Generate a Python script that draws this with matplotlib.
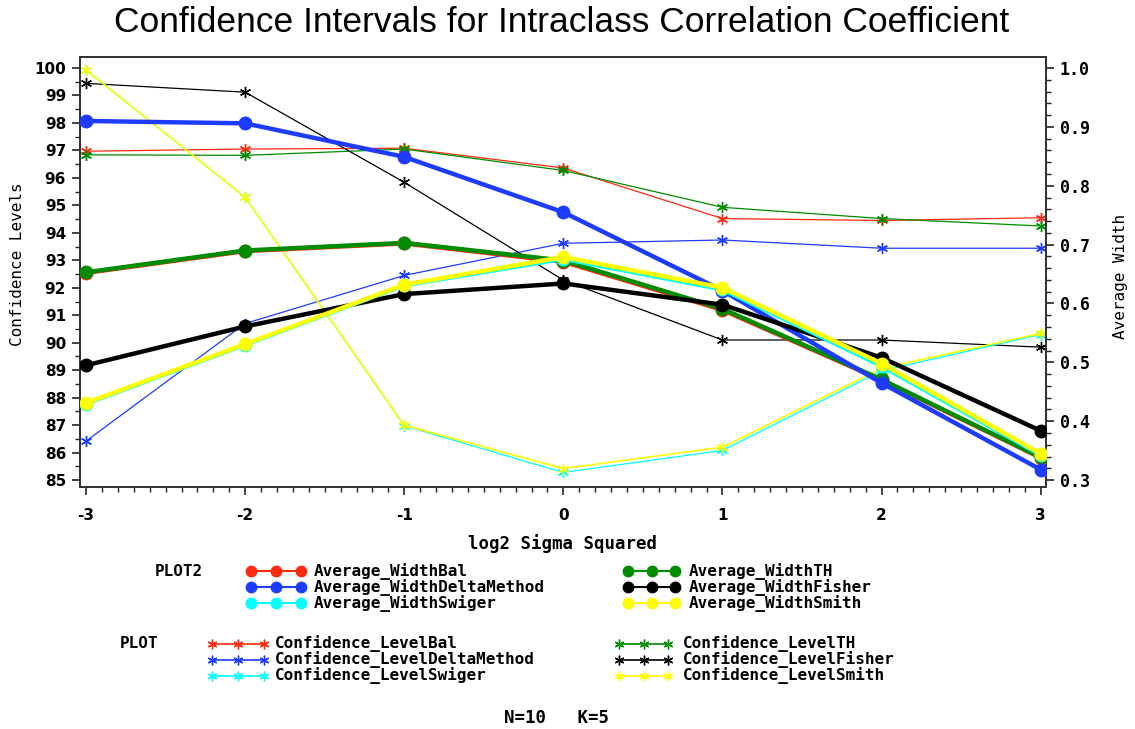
import matplotlib
matplotlib.use("Agg")
import matplotlib.pyplot as plt
from matplotlib.lines import Line2D
from matplotlib.ticker import MultipleLocator, FormatStrFormatter

plt.rcParams['axes.unicode_minus'] = False

# log2 of sigma squared
log2_sigma2 = [-3, -2, -1, 0, 1, 2, 3]

# Confidence levels (%), left axis
conf_bal = [96.97, 97.05, 97.08, 96.36, 94.52, 94.45, 94.55]
conf_th = [96.84, 96.82, 97.05, 96.27, 94.93, 94.52, 94.25]
conf_delta = [86.42, 90.70, 92.45, 93.62, 93.74, 93.44, 93.44]
conf_fisher = [99.44, 99.12, 95.84, 92.28, 90.10, 90.10, 89.84]
conf_swiger = [99.92, 95.29, 86.98, 85.28, 86.08, 88.98, 90.30]
conf_smith = [99.93, 95.30, 87.00, 85.42, 86.20, 89.07, 90.34]

# Average interval width, right axis
width_bal = [0.652, 0.689, 0.702, 0.671, 0.589, 0.470, 0.338]
width_th = [0.653, 0.690, 0.703, 0.673, 0.591, 0.471, 0.339]
width_delta = [0.910, 0.906, 0.849, 0.755, 0.622, 0.465, 0.318]
width_fisher = [0.495, 0.561, 0.616, 0.634, 0.598, 0.508, 0.384]
width_swiger = [0.430, 0.530, 0.631, 0.676, 0.624, 0.494, 0.343]
width_smith = [0.431, 0.531, 0.632, 0.679, 0.627, 0.498, 0.345]

methods = ["Bal", "TH", "DeltaMethod", "Fisher", "Swiger", "Smith"]
colors = {"Bal": "#ff2a10", "TH": "#008c00", "DeltaMethod": "#1e3cff",
          "Fisher": "#000000", "Swiger": "#00ffff", "Smith": "#ffff00"}
conf = {"Bal": conf_bal, "TH": conf_th, "DeltaMethod": conf_delta,
        "Fisher": conf_fisher, "Swiger": conf_swiger, "Smith": conf_smith}
width = {"Bal": width_bal, "TH": width_th, "DeltaMethod": width_delta,
         "Fisher": width_fisher, "Swiger": width_swiger, "Smith": width_smith}

W, H = 1135, 729
fig = plt.figure(figsize=(W / 100, H / 100), dpi=100)
fig.patch.set_facecolor("white")

L, T, R, B = 80, 57, 1046, 487
ax = fig.add_axes([L / W, 1 - B / H, (R - L) / W, (B - T) / H])
ax2 = ax.twinx()

asterisk = (6, 2, 0)
for m in methods:
    ax.plot(log2_sigma2, conf[m], color=colors[m],
            lw=1.2 if m == "Smith" else 0.9, marker=asterisk,
            ms=8, mew=1.0, zorder=2)
for m in methods:
    ax2.plot(log2_sigma2, width[m], color=colors[m], lw=3.2, marker="o",
             ms=9, zorder=3)

ylo, yhi = 84.75, 100.4
ax.set_ylim(ylo, yhi)
ax2.set_ylim(0.3 + (ylo - 85) * 0.7 / 15, 0.3 + (yhi - 85) * 0.7 / 15)
ax.set_xlim(-3.038, 3.034)

ax.xaxis.set_major_locator(MultipleLocator(1))
ax.xaxis.set_minor_locator(MultipleLocator(0.1))
ax.yaxis.set_major_locator(MultipleLocator(1))
ax.yaxis.set_minor_locator(MultipleLocator(0.5))
ax2.yaxis.set_major_locator(MultipleLocator(0.1))
ax2.yaxis.set_minor_locator(MultipleLocator(0.02))
ax2.yaxis.set_major_formatter(FormatStrFormatter("%.1f"))

for a in (ax, ax2):
    a.tick_params(which="major", direction="out", length=6, width=1.2, color="#222222")
    a.tick_params(which="minor", direction="out", length=3.5, width=1.0, color="#222222")
    for s in a.spines.values():
        s.set_linewidth(1.3)
        s.set_color("#333333")

ax.tick_params(axis="x", pad=9)
ax.tick_params(axis="y", pad=4)
ax2.tick_params(axis="y", pad=4)
for lab in ax.get_xticklabels() + ax.get_yticklabels():
    lab.set_fontfamily("DejaVu Sans")
    lab.set_fontweight("bold")
    lab.set_fontsize(11)
for lab in ax2.get_yticklabels():
    lab.set_fontfamily("DejaVu Sans Mono")
    lab.set_fontweight("bold")
    lab.set_fontsize(12)


def fx(x):
    return x / W


def fy(y):
    return 1 - y / H


fig.text(fx(562), fy(23), "Confidence Intervals for Intraclass Correlation Coefficient",
         ha="center", va="center", fontsize=25.5, family="Liberation Sans")
fig.text(fx(18), fy(264), "Confidence Levels", rotation=90, ha="center", va="center",
         fontsize=11.5, family="DejaVu Sans Mono")
fig.text(fx(1121), fy(276), "Average Width", rotation=90, ha="center", va="center",
         fontsize=11.5, family="DejaVu Sans Mono")
fig.text(fx(562), fy(544), "log2 Sigma Squared", ha="center", va="center",
         fontsize=12.5, family="DejaVu Sans Mono", weight="bold")
fig.text(fx(557), fy(718), "N=10   K=5", ha="center", va="center",
         fontsize=12.5, family="DejaVu Sans Mono", weight="bold")

leg_font = dict(fontsize=11.5, family="DejaVu Sans Mono", weight="bold", va="center")


def legend_entry(x0, x1, y, tx, color, marker, ms, lw, label):
    xs = [fx(x0), fx((x0 + x1) / 2), fx(x1)]
    ys = [fy(y)] * 3
    fig.add_artist(Line2D(xs, ys, transform=fig.transFigure, color=color, lw=lw,
                          marker=marker, ms=ms, mew=1.0))
    fig.text(fx(tx), fy(y), label, **leg_font)


fig.text(fx(155), fy(571), "PLOT2", **leg_font)
rows2 = [571, 587, 603]
for i, m in enumerate(["Bal", "DeltaMethod", "Swiger"]):
    legend_entry(251, 301, rows2[i], 314, colors[m], "o", 7.5, 1.5, "Average_Width" + m)
for i, m in enumerate(["TH", "Fisher", "Smith"]):
    legend_entry(628, 675, rows2[i], 689, colors[m], "o", 7.5, 1.5, "Average_Width" + m)

fig.text(fx(120), fy(644), "PLOT", **leg_font)
rows1 = [644, 660, 676]
for i, m in enumerate(["Bal", "DeltaMethod", "Swiger"]):
    legend_entry(212, 264, rows1[i], 275, colors[m], asterisk, 7, 1.2, "Confidence_Level" + m)
for i, m in enumerate(["TH", "Fisher", "Smith"]):
    legend_entry(619, 668, rows1[i], 683, colors[m], asterisk, 7, 1.2, "Confidence_Level" + m)

fig.savefig("out.png", dpi=100, facecolor="white")
